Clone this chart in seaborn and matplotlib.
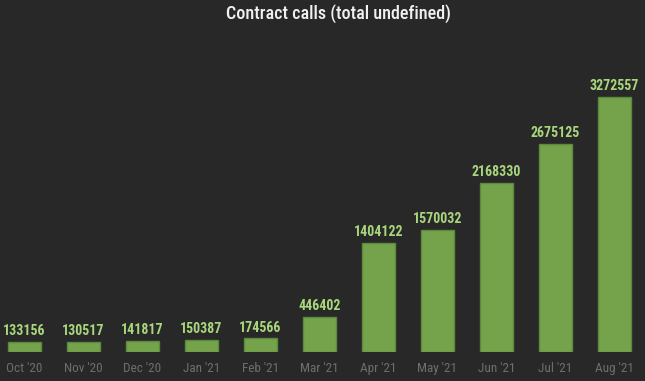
import numpy as np
import pandas as pd
import matplotlib
matplotlib.use("Agg")
import matplotlib.pyplot as plt
import seaborn as sns

# --------------------------------------------------
# Data
# --------------------------------------------------
months = ["Oct '20", "Nov '20", "Dec '20", "Jan '21", "Feb '21", "Mar '21",
          "Apr '21", "May '21", "Jun '21", "Jul '21", "Aug '21"]
calls = [133156, 130517, 141817, 150387, 174566, 446402,
         1404122, 1570032, 2168330, 2675125, 3272557]

df = pd.DataFrame({"month": months, "calls": calls})

# --------------------------------------------------
# Style
# --------------------------------------------------
bg = "#282828"
sns.set_theme(style="dark")
plt.rcParams["font.family"] = ["Roboto Condensed", "Roboto", "DejaVu Sans"]

fig = plt.figure(figsize=(6.45, 3.81), dpi=100, facecolor=bg)
ax = fig.add_axes([0, 29 / 381, 1, 292 / 381])
ax.set_facecolor(bg)

sns.barplot(data=df, x="month", y="calls", ax=ax, color="#74a34c",
            width=0.56, saturation=1, edgecolor="#5b8a3c", linewidth=1)

# value labels above bars
for i, v in enumerate(calls):
    ax.text(i, v + 50000, str(v), ha="center", va="bottom",
            fontsize=10, fontweight="bold", color="#a8d67c")

ax.set_xlim(-0.415, 10.517)
ax.set_ylim(0, 3.75e6)
ax.set_xlabel("")
ax.set_ylabel("")
ax.set_yticks([])
ax.tick_params(axis="x", colors="#6e6e6e", labelsize=9.5, length=0, pad=7)
for s in ax.spines.values():
    s.set_visible(False)
ax.grid(False)

fig.text(338 / 645, 1 - 14 / 381, "Contract calls (total undefined)", ha="center",
         va="center", fontsize=13, fontweight="medium", color="#f0f0f0")

fig.savefig("out.png", dpi=100, facecolor=bg)
plt.close(fig)
